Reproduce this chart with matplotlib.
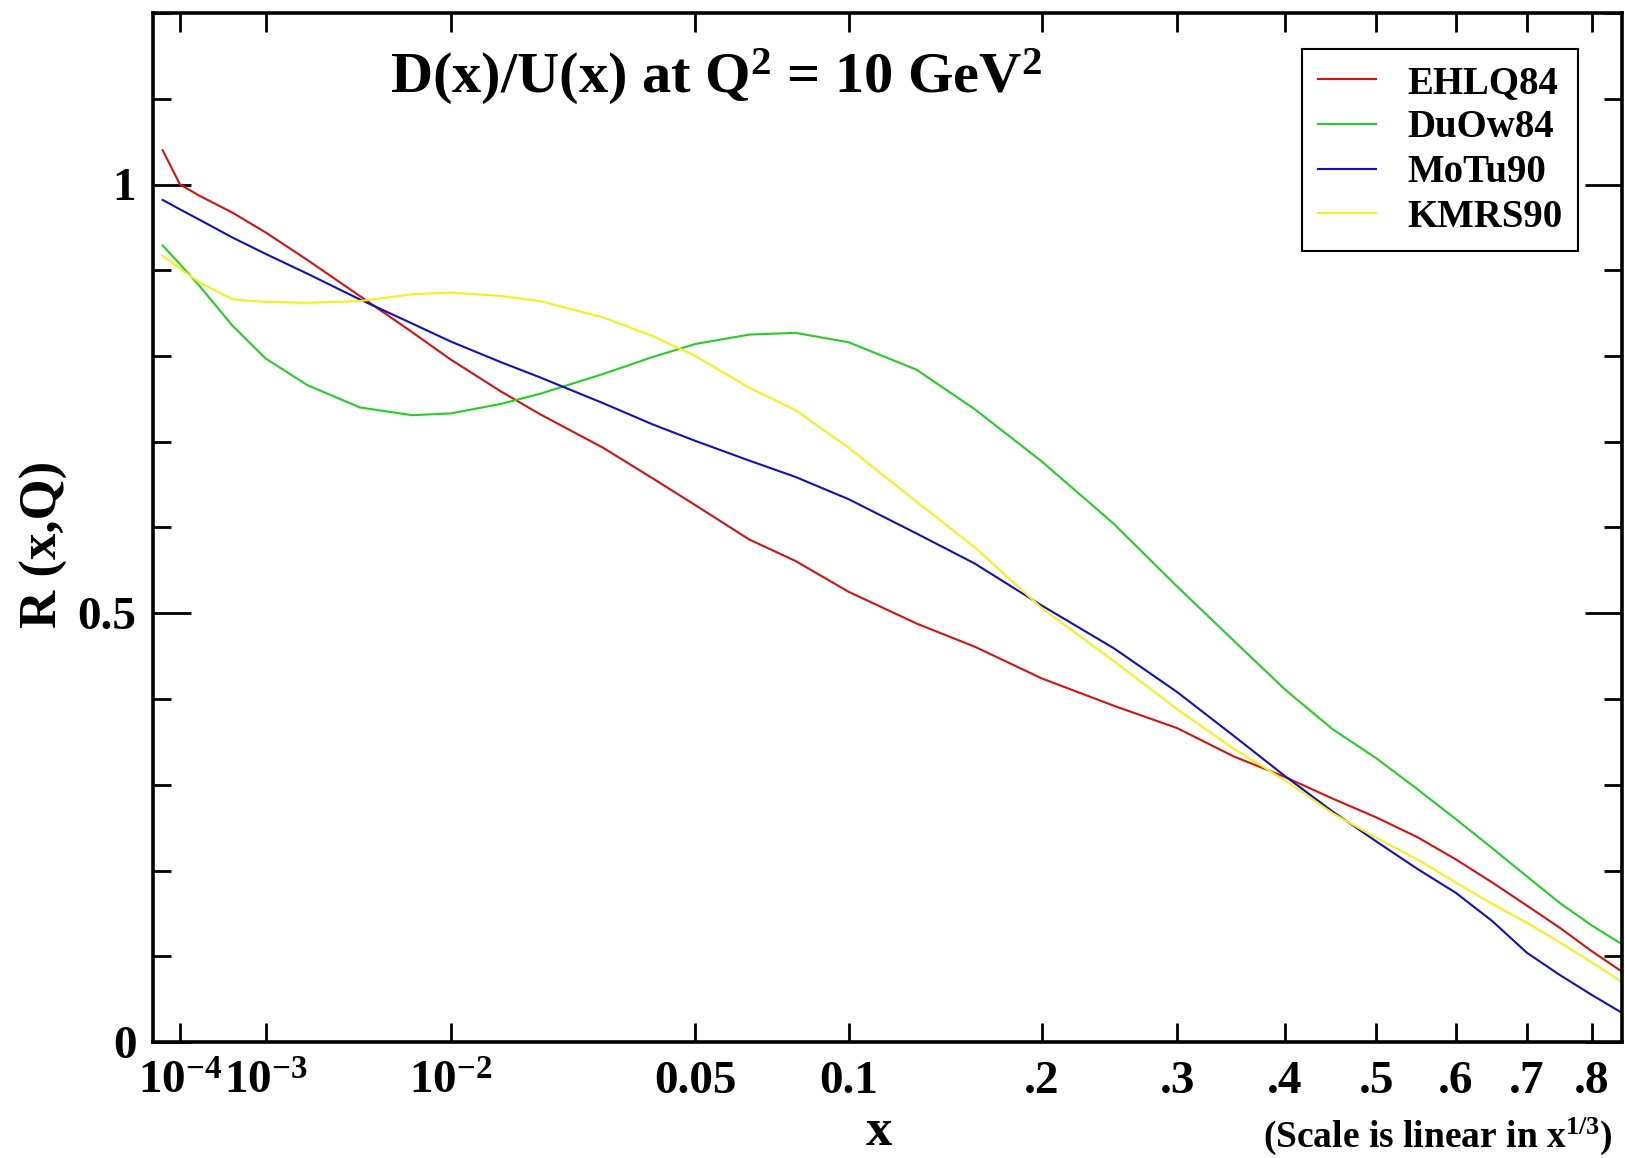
import numpy as np
import matplotlib
matplotlib.use('Agg')
import matplotlib.pyplot as plt
from matplotlib.ticker import FixedLocator, MultipleLocator

plt.rcParams['font.family'] = ['Liberation Serif', 'DejaVu Serif']
plt.rcParams['font.weight'] = 'bold'
plt.rcParams['mathtext.fontset'] = 'custom'
plt.rcParams['mathtext.rm'] = 'Liberation Serif:bold'
plt.rcParams['mathtext.it'] = 'Liberation Serif:bold'
plt.rcParams['mathtext.bf'] = 'Liberation Serif:bold'
plt.rcParams['mathtext.default'] = 'rm'

# ---------------- data ----------------
x_vals = [4.5e-5, 1e-4, 2e-4, 5e-4, 1e-3, 2e-3, 4e-3, 7e-3, 0.01, 0.015, 0.02,
          0.03, 0.04, 0.05, 0.065, 0.08, 0.1, 0.13, 0.16, 0.2, 0.25, 0.3, 0.35,
          0.4, 0.45, 0.5, 0.55, 0.6, 0.65, 0.7, 0.75, 0.8, 0.85]

ehlq84 = [1.04, 1.0, 0.987, 0.967, 0.944, 0.912, 0.870, 0.828, 0.796, 0.759, 0.732,
          0.693, 0.657, 0.626, 0.586, 0.561, 0.525, 0.488, 0.461, 0.424, 0.392, 0.366,
          0.333, 0.309, 0.284, 0.262, 0.239, 0.213, 0.186, 0.159, 0.133, 0.106, 0.082]
duow84 = [0.929, 0.907, 0.882, 0.835, 0.797, 0.766, 0.740, 0.731, 0.733, 0.744, 0.756,
          0.779, 0.799, 0.814, 0.825, 0.827, 0.816, 0.784, 0.738, 0.677, 0.604, 0.531,
          0.468, 0.411, 0.365, 0.331, 0.295, 0.260, 0.226, 0.193, 0.162, 0.136, 0.114]
motu90 = [0.982, 0.971, 0.959, 0.938, 0.919, 0.896, 0.866, 0.838, 0.817, 0.793, 0.775,
          0.745, 0.720, 0.701, 0.678, 0.659, 0.633, 0.593, 0.558, 0.509, 0.459, 0.408,
          0.357, 0.310, 0.269, 0.234, 0.202, 0.174, 0.141, 0.104, 0.078, 0.055, 0.034]
kmrs90 = [0.917, 0.902, 0.886, 0.866, 0.863, 0.862, 0.864, 0.872, 0.874, 0.870, 0.864,
          0.845, 0.823, 0.800, 0.763, 0.737, 0.693, 0.630, 0.577, 0.506, 0.444, 0.388,
          0.342, 0.305, 0.267, 0.238, 0.213, 0.186, 0.161, 0.139, 0.116, 0.093, 0.070]

series_names = ['EHLQ84', 'DuOw84', 'MoTu90', 'KMRS90']
series_colors = ['#d81010', '#22d022', '#1010c0', '#f2f218']

xtick_pos = [1e-4, 1e-3, 1e-2, 0.05, 0.1, 0.2, 0.3, 0.4, 0.5, 0.6, 0.7, 0.8]
xtick_labels = [r'10$^{-4}$', r'10$^{-3}$', r'10$^{-2}$', '0.05', '0.1', '.2', '.3',
                '.4', '.5', '.6', '.7', '.8']
ytick_pos = [0, 0.5, 1.0]
ytick_labels = ['0', '0.5', '1']

# ---------------- figure ----------------
W, H = 1625, 1158
fig = plt.figure(figsize=(W / 100, H / 100), dpi=100)
ax = fig.add_axes([153 / W, 1 - 1042 / H, (1622 - 153) / W, (1042 - 13) / H])

ax.set_xscale('function', functions=(np.cbrt, lambda t: np.asarray(t) ** 3))
ax.set_xlim(2.58e-5, 0.85)
ax.set_ylim(0, 1.2)

for vals, name, col in zip([ehlq84, duow84, motu90, kmrs90], series_names, series_colors):
    ax.plot(x_vals, vals, color=col, lw=1.5, label=name)

# ticks
ax.xaxis.set_major_locator(FixedLocator(xtick_pos))
ax.set_xticklabels(xtick_labels)
ax.xaxis.set_minor_locator(FixedLocator([]))
ax.yaxis.set_major_locator(FixedLocator(ytick_pos))
ax.set_yticklabels(ytick_labels)
ax.yaxis.set_minor_locator(MultipleLocator(0.1))

ax.tick_params(axis='both', which='both', direction='in', top=True, right=True,
               width=2, labelsize=34)
ax.tick_params(axis='x', which='major', length=14, pad=14)
ax.tick_params(axis='y', which='major', length=27, pad=12)
ax.tick_params(axis='y', which='minor', length=13)
for lab in ax.get_xticklabels() + ax.get_yticklabels():
    lab.set_fontweight('bold')
for sp in ax.spines.values():
    sp.set_linewidth(2.6)

ax.set_ylabel('R (x,Q)', fontsize=38, fontweight='bold')
ax.yaxis.set_label_coords((68 - 153) / 1469, (1042 - 544) / 1029)
fig.text(879 / W, 1 - 1132 / H, 'x', fontsize=38,
         fontweight='bold', ha='center', va='center')
fig.text(1438 / W, 1 - 1136 / H, r'(Scale is linear in x$^{1/3}$)',
         fontsize=27, fontweight='bold', ha='center', va='center')

fig.text(716 / W, 1 - 77 / H, r'D(x)/U(x) at Q$^{2}$ = 10 GeV$^{2}$',
         fontsize=42, fontweight='bold', ha='center', va='center')

leg = ax.legend(loc='upper right', bbox_to_anchor=(1578 / W, 1 - 49 / H),
                bbox_transform=fig.transFigure, fontsize=28, frameon=True,
                fancybox=False, shadow=False, framealpha=1, handlelength=1.5,
                handletextpad=0.8, labelspacing=0.2, borderpad=0.4, borderaxespad=0)
leg.get_frame().set_edgecolor('black')
leg.get_frame().set_linewidth(1.5)
for t in leg.get_texts():
    t.set_fontweight('bold')

fig.savefig('out.png', dpi=100)
